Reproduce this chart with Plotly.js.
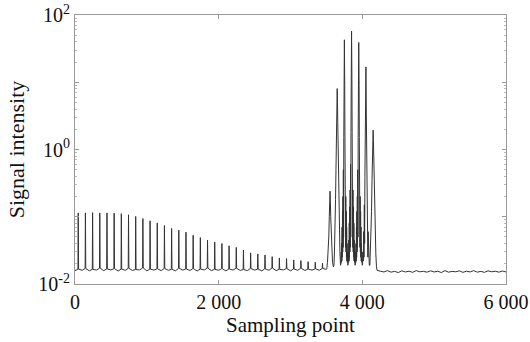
<!DOCTYPE html>
<html>
<head>
<meta charset="utf-8">
<script src="https://cdn.plot.ly/plotly-3.0.1.min.js"></script>
<style>html,body{margin:0;padding:0;background:#fff;}#chart{width:530px;height:342px;}</style>
</head>
<body>
<div id="chart"></div>
<script>
// ---- data ----
// periodic spikes before the burst (sampling point, intensity)
const spikePos = [45,145,245,345,445,545,645,745,845,945,1045,1145,1245,1345,1445,1545,1645,1745,1845,1945,2045,2145,2245,2345,2445,2545,2645,2745,2845,2945,3045,3145,3245,3345,3445];
const spikeVal = [0.114,0.114,0.115,0.114,0.114,0.113,0.111,0.107,0.101,0.094,0.087,0.081,0.074,0.067,0.063,0.059,0.053,0.049,0.045,0.042,0.040,0.037,0.035,0.032,0.029,0.028,0.027,0.0255,0.0244,0.0239,0.0228,0.0223,0.0215,0.0211,0.0204];

// baseline noise, one value every 50 sampling points from 0 to 6000
const baseStep = 50;
const baseVal = [0.0158,0.0166,0.0160,0.0170,0.0157,0.0165,0.0161,0.0172,0.0158,0.0167,
0.0162,0.0169,0.0156,0.0166,0.0160,0.0171,0.0159,0.0164,0.0162,0.0173,
0.0157,0.0166,0.0161,0.0168,0.0158,0.0170,0.0160,0.0165,0.0157,0.0171,
0.0161,0.0167,0.0159,0.0169,0.0156,0.0166,0.0162,0.0172,0.0158,0.0165,
0.0160,0.0169,0.0157,0.0167,0.0161,0.0171,0.0159,0.0164,0.0158,0.0170,
0.0161,0.0166,0.0157,0.0168,0.0160,0.0172,0.0158,0.0165,0.0162,0.0169,
0.0157,0.0167,0.0160,0.0171,0.0159,0.0166,0.0161,0.0168,0.0160,0.0170,
0.0165,0.0170,0.0168,0.0175,0.0170,0.0172,0.0168,0.0170,0.0166,0.0170,
0.0165,0.0160,0.0150,0.0156,0.0149,0.0155,0.0151,0.0158,0.0150,0.0154,
0.0148,0.0157,0.0151,0.0155,0.0149,0.0158,0.0152,0.0154,0.0150,0.0157,
0.0151,0.0155,0.0148,0.0158,0.0150,0.0154,0.0152,0.0157,0.0149,0.0155,
0.0151,0.0158,0.0150,0.0154,0.0149,0.0157,0.0152,0.0155,0.0150,0.0156,
0.0151];

// main burst: seven peaks, [sampling point, intensity]
const peakA = [[3505,0.017],[3515,0.021],[3525,0.03],[3533,0.05],[3540,0.1],[3545,0.17],[3550,0.24],[3555,0.17],[3560,0.1],[3567,0.05],[3575,0.03],[3585,0.021],[3597,0.018]];
const peakB = [[3605,0.019],[3612,0.03],[3618,0.05],[3627,0.18],[3633,0.5],[3638,1.2],[3642,2.5],[3646,5],[3650,8.05],[3654,5],[3658,2.5],[3662,1.2],[3667,0.5],[3673,0.18],[3682,0.05],[3688,0.03],[3696,0.019]];
const peakC = [[3702,0.02],[3706,0.03],[3709,0.021],[3712,0.04],[3715,0.022],[3718,0.07],[3721,0.025],[3724,0.12],[3727,0.03],[3730,0.2],[3733,0.035],[3736,0.5],[3739,0.05],[3742,1.5],[3745,9],[3750,42.8],[3755,9],[3758,1.5],[3761,0.05],[3764,0.5],[3767,0.035],[3770,0.2],[3773,0.03],[3776,0.12],[3779,0.025],[3782,0.07],[3785,0.022],[3788,0.04],[3791,0.021],[3794,0.03],[3799,0.019]];
const peakD = [[3803,0.021],[3806,0.03],[3809,0.021],[3812,0.045],[3815,0.022],[3818,0.08],[3821,0.025],[3824,0.14],[3827,0.03],[3830,0.25],[3833,0.035],[3836,0.6],[3839,0.05],[3842,1.8],[3845,11],[3850,57.7],[3855,11],[3858,1.8],[3861,0.05],[3864,0.6],[3867,0.035],[3870,0.25],[3873,0.03],[3876,0.14],[3879,0.025],[3882,0.08],[3885,0.022],[3888,0.045],[3891,0.021],[3894,0.03],[3899,0.019]];
const peakE = [[3903,0.021],[3906,0.03],[3909,0.021],[3912,0.04],[3915,0.022],[3918,0.07],[3921,0.025],[3924,0.12],[3927,0.03],[3930,0.2],[3933,0.035],[3936,0.5],[3939,0.05],[3942,1.5],[3945,9],[3950,39],[3955,9],[3958,1.5],[3961,0.05],[3964,0.5],[3967,0.035],[3970,0.2],[3973,0.03],[3976,0.12],[3979,0.025],[3982,0.07],[3985,0.022],[3988,0.04],[3991,0.021],[3994,0.03],[3999,0.019]];
const peakF = [[4004,0.02],[4010,0.03],[4014,0.022],[4019,0.06],[4023,0.025],[4028,0.15],[4032,0.04],[4036,0.4],[4040,1.2],[4045,4],[4050,16.9],[4055,4],[4060,1.2],[4064,0.4],[4068,0.04],[4072,0.15],[4077,0.025],[4081,0.06],[4086,0.022],[4090,0.03],[4097,0.019]];
const peakG = [[4105,0.019],[4112,0.028],[4120,0.05],[4128,0.12],[4135,0.35],[4141,0.8],[4146,1.4],[4150,1.94],[4154,1.4],[4159,0.8],[4165,0.35],[4172,0.12],[4180,0.05],[4188,0.028],[4197,0.018],[4205,0.016]];

// axis labels
const xTickVals = [0,2000,4000,6000];
const xTickText = ['0','2 000','4 000','6 000'];
const yTickVals = [0.01,0.1,1,10,100];
const yTickText = ['10<sup>-2</sup>','','10<sup>0</sup>','','10<sup>2</sup>'];

// ---- build the single signal trace ----
const burst = [].concat(peakA,peakB,peakC,peakD,peakE,peakF,peakG);
const burstStart = burst[0][0], burstEnd = burst[burst.length-1][0];
const pts = [];
baseVal.forEach((v,i)=>{
  const x = i*baseStep;
  if (x < burstStart || x > burstEnd) pts.push([x,v]);
});
spikePos.forEach((p,k)=>{
  const b = baseVal[Math.round(p/baseStep)];
  pts.push([p-4,b],[p,spikeVal[k]],[p+4,b]);
});
burst.forEach(p=>pts.push(p));
pts.sort((a,b)=>a[0]-b[0]);

const minorVals = [];
[0.01,0.1,1,10].forEach(d=>{for(let m=2;m<=9;m++) minorVals.push(d*m);});

const fam = '"Liberation Serif", "Times New Roman", serif';
const tickFont = {family:fam, size:20, color:'#111'};

Plotly.newPlot('chart', [{
  x: pts.map(p=>p[0]), y: pts.map(p=>p[1]),
  type:'scatter', mode:'lines',
  line:{color:'#333', width:1},
  hoverinfo:'skip'
}], {
  width:530, height:342,
  margin:{l:75, r:24, t:15, b:58},
  paper_bgcolor:'#fff', plot_bgcolor:'#fff',
  showlegend:false,
  font: tickFont,
  xaxis:{
    range:[0,6000], tickmode:'array', tickvals:xTickVals, ticktext:xTickText,
    ticks:'inside', ticklen:4, tickcolor:'#999', tickwidth:1,
    showline:true, linecolor:'#999', linewidth:1, mirror:'ticks',
    showgrid:false, zeroline:false, tickfont:tickFont,
    title:{text:'Sampling point', font:{family:fam, size:21, color:'#111'}, standoff:3}
  },
  yaxis:{
    type:'log', range:[-2,2], tickmode:'array', tickvals:yTickVals, ticktext:yTickText,
    ticks:'inside', ticklen:4, tickcolor:'#999', tickwidth:1,
    minor:{tickmode:'array', tickvals:minorVals, ticks:'inside', ticklen:2, tickcolor:'#bbb'},
    showline:true, linecolor:'#999', linewidth:1, mirror:'ticks',
    showgrid:false, zeroline:false, tickfont:tickFont,
    title:{text:'Signal intensity', font:{family:fam, size:22, color:'#111'}, standoff:7}
  }
}, {staticPlot:true, displayModeBar:false});
</script>
</body>
</html>
